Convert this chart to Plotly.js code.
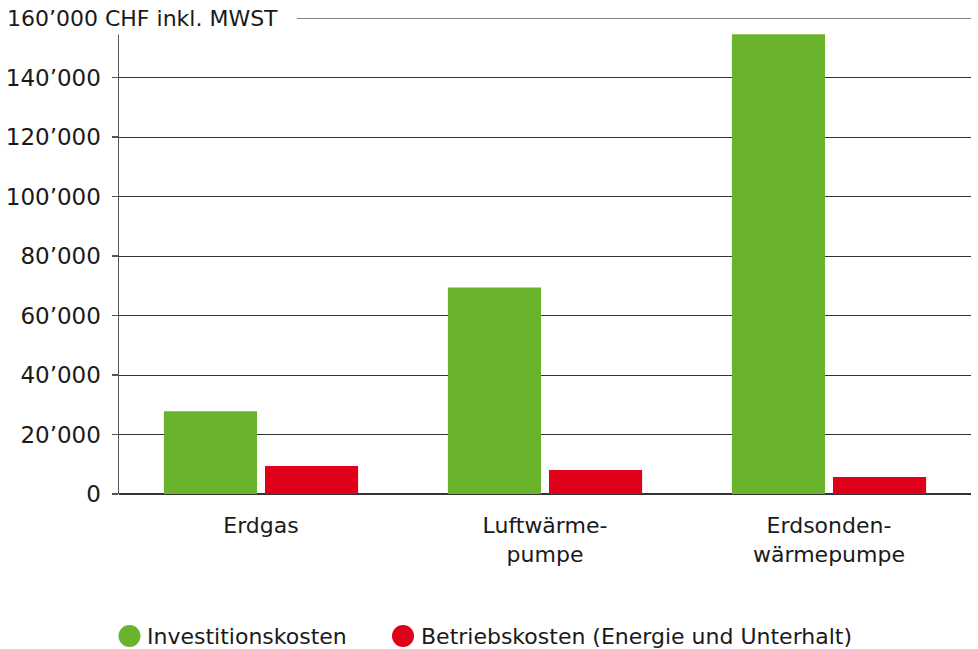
<!DOCTYPE html>
<html>
<head>
<meta charset="utf-8">
<script src="https://cdn.plot.ly/plotly-3.0.1.min.js"></script>
<style>html,body{margin:0;padding:0;background:#fff;}#chart{width:978px;height:649px;}</style>
</head>
<body>
<div id="chart"></div>
<script>
const categories = ["Erdgas", "Luftwärme-<br>pumpe", "Erdsonden-<br>wärmepumpe"];
const seriesNames = ["Investitionskosten", "Betriebskosten (Energie und Unterhalt)"];
const investitionskosten = [27800, 69400, 154500];
const betriebskosten = [9400, 8050, 5700];
const tickValues = [0, 20000, 40000, 60000, 80000, 100000, 120000, 140000];
const tickLabels = ["0", "20’000", "40’000", "60’000", "80’000", "100’000", "120’000", "140’000"];
const axisTop = 160000;
const axisTitle = "160’000 CHF inkl. MWST";
const colors = ["#6ab42d", "#e1001a"];

const W = 978, H = 649;
const mL = 119, mR = 7, mT = 18, mB = 155;
const pw = W - mL - mR, ph = H - mT - mB;
const px = v => (v - mL) / pw;
const py = v => (H - mB - v) / ph;
const FONT = '"DejaVu Sans", "Noto Sans", sans-serif';
const TXT = '#1a1a1a';
const FS = 22;

const traces = [
  {type: 'bar', x: categories, y: investitionskosten, name: seriesNames[0], marker: {color: colors[0]}, showlegend: false, hoverinfo: 'skip'},
  {type: 'bar', x: categories, y: betriebskosten, name: seriesNames[1], marker: {color: colors[1]}, showlegend: false, hoverinfo: 'skip'}
];

const legendX = [129.5, 403];
const legendTextX = [145, 419];
const legendY = 636;

const shapes = seriesNames.map((n, i) => ({
  type: 'circle', xref: 'paper', yref: 'paper', xsizemode: 'pixel', ysizemode: 'pixel',
  xanchor: px(legendX[i]), yanchor: py(legendY), x0: -11, x1: 11, y0: -11, y1: 11,
  fillcolor: colors[i], line: {width: 0}
}));
// top gridline (starts after the axis title text)
shapes.push({
  type: 'line', xref: 'paper', yref: 'y', x0: px(297), x1: 1, y0: axisTop, y1: axisTop,
  line: {color: '#555555', width: 1.5}
});

const annotations = seriesNames.map((n, i) => ({
  text: n, xref: 'paper', yref: 'paper', x: px(legendTextX[i]), y: py(legendY),
  xanchor: 'left', yanchor: 'middle', height: 24, valign: 'middle',
  showarrow: false, font: {family: FONT, size: FS, color: TXT}
}));
annotations.push({
  text: axisTitle, xref: 'paper', yref: 'paper', x: px(3), y: 1, xanchor: 'left', yanchor: 'middle',
  showarrow: false, bgcolor: '#ffffff', borderpad: 3, font: {family: FONT, size: FS, color: TXT}
});

const layout = {
  width: W, height: H,
  margin: {l: mL, r: mR, t: mT, b: mB, pad: 0},
  paper_bgcolor: '#fff', plot_bgcolor: '#fff',
  font: {family: FONT, size: FS, color: TXT},
  barmode: 'group', bargap: 0.288, bargroupgap: 0.079,
  showlegend: false,
  xaxis: {
    type: 'category', showgrid: false, zeroline: false, showline: false,
    ticks: '', ticklabelstandoff: 16, tickfont: {family: FONT, size: FS, color: TXT}
  },
  yaxis: {
    range: [0, axisTop], tickmode: 'array', tickvals: tickValues, ticktext: tickLabels,
    showgrid: true, gridcolor: '#333333', gridwidth: 1,
    zeroline: true, zerolinecolor: '#333333', zerolinewidth: 1.5,
    showline: true, linecolor: '#555555', linewidth: 1.5,
    ticks: 'outside', ticklen: 6, tickcolor: '#555555', tickwidth: 1.5,
    ticklabelstandoff: 6, tickfont: {family: FONT, size: 23, color: TXT}
  },
  shapes: shapes,
  annotations: annotations
};

Plotly.newPlot('chart', traces, layout, {displayModeBar: false, staticPlot: true});
</script>
</body>
</html>
